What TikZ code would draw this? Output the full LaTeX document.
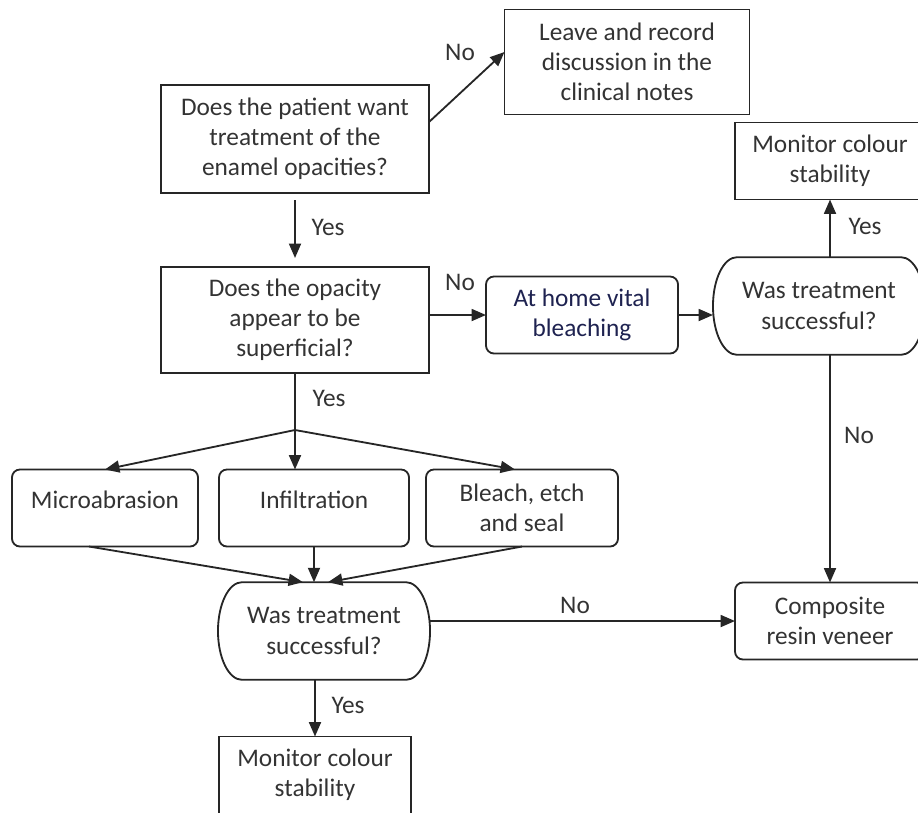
\documentclass[tikz,border=0pt]{standalone}
\usepackage{fontspec}
\setmainfont{Carlito}
\usetikzlibrary{arrows, arrows.meta}
\usetikzlibrary{positioning}
\definecolor{navytext}{RGB}{30,34,80}

\begin{document}
\begin{tikzpicture}[x=0.025cm, y=-0.025cm]
\tikzset{
  box/.style={draw=black!85, line width=1.3pt, text=black!80, align=center, inner sep=2pt, outer sep=0pt,
    minimum width=4.75cm, minimum height=1.925cm, font=\fontsize{18}{21.5}\selectfont},
  rbox/.style={box, rounded corners=0.2cm},
  choice/.style={box, draw=none, minimum width=5.3cm, minimum height=2.44cm},
  lbl/.style={text=black!80, font=\fontsize{18}{21.5}\selectfont},
  >={Triangle[length=0.36cm, width=0.3cm]}
}
\useasboundingbox (0,0) rectangle (918,812);
\clip (0,0) rectangle (918,812);

\coordinate (S) at (295,430);

\node[box, minimum width=6.7cm, minimum height=2.7cm] (Q1) at (295,139) {Does the patient want\\treatment of the\\enamel opacities?};
\node[box, minimum width=6.125cm, minimum height=2.625cm] (L) at (627,62) {Leave and record\\discussion in the\\clinical notes};
\node[box, minimum width=6.7cm, minimum height=2.65cm] (Q2) at (295,320) {Does the opacity\\appear to be\\superficial?};
\node[rbox, minimum width=4.8cm, text=navytext] (H) at (582,315) {At home vital\\bleaching};
\node[choice] (W2) at (819,306) {Was treatment\\successful?};
\node[box] (M2) at (830,161) {Monitor colour\\stability};
\node[rbox] (C) at (830,621) {Composite\\resin veneer};

\node[rbox, minimum width=4.65cm, text depth=0.4cm] (MA) at (105,508) {Microabrasion};
\node[rbox, text depth=0.4cm] (IN) at (314,508) {Infiltration};
\node[rbox, minimum width=4.8cm] (BE) at (522,508) {Bleach, etch\\and seal};

\node[choice] (W1) at (324,631) {Was treatment\\successful?};
\node[box, minimum width=4.8cm] (M1) at (315,775) {Monitor colour\\stability};

\foreach \n in {W1,W2}
  \draw[draw=black!85, line width=1.3pt] ([xshift=0.6cm]\n.north west) -- ([xshift=-0.6cm]\n.north east)
    arc[start angle=90, end angle=-90, x radius=0.6cm, y radius=1.22cm]
    -- ([xshift=0.6cm]\n.south west)
    arc[start angle=270, end angle=90, x radius=0.6cm, y radius=1.22cm] -- cycle;

\begin{scope}[draw=black!85, line width=1.3pt]
\draw[->] ([yshift=0.425cm]Q1.east) -- ([yshift=0.25cm]L.west);
\draw[->, shorten <=0.175cm, shorten >=0.225cm] (Q1.south) -- (Q2.north);
\draw[->] (Q2.east |- H.west) -- (H.west);
\draw[->] (H.east) -- (H.east -| W2.west);
\draw[->] (M2.south |- W2.north) -- (M2.south);
\draw[->] (M2.south |- W2.south) -- (C.north);
\draw (Q2.south) -- (S);
\draw[->] (S) -- (MA.north);
\draw[->] (S) -- (S |- IN.north);
\draw[->] (S) -- ([xshift=-0.175cm]BE.north);
\draw[->] ([xshift=-0.4cm]MA.south) -- ([xshift=-0.525cm]W1.north);
\draw[->] (IN.south) -- (IN.south |- W1.north);
\draw[->] (BE.south) -- ([xshift=0.1cm]W1.north);
\draw[->] (W1.east |- C.west) -- (C.west);
\draw[->] (W1.south -| M1.north) -- (M1.north);
\end{scope}

\node[lbl] (N1) at (460,52) {No};
\node[lbl] (Y1) at (328,227) {Yes};
\node[lbl] (N2) at (460,282) {No};
\node[lbl] (Y2) at (329,398) {Yes};
\node[lbl] (Y3) at (865,226) {Yes};
\node[lbl] (N3) at (859,435) {No};
\node[lbl] (N4) at (575,605) {No};
\node[lbl] (Y4) at (348,705) {Yes};
\end{tikzpicture}
\end{document}
